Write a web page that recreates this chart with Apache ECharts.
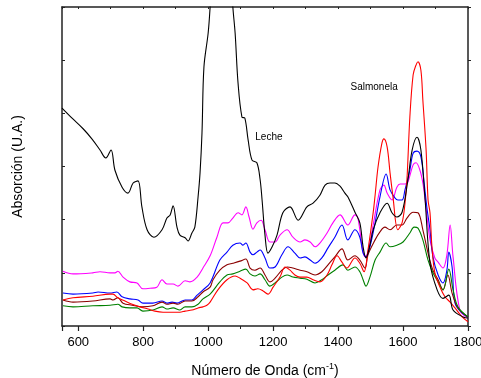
<!DOCTYPE html>
<html>
<head>
<meta charset="utf-8">
<script src="https://cdn.jsdelivr.net/npm/echarts@6/dist/echarts.min.js"></script>
<style>
  html, body { margin: 0; padding: 0; background: #fff; }
  #main { width: 481px; height: 378px; }
</style>
</head>
<body>
<div id="main"></div>
<script>
// espectros FTIR: [número de onda (cm-1), absorción (U.A.)]
const leche = [[550, 4.10], [581, 3.91], [615, 3.71], [642, 3.52], [667, 3.31], [685, 3.16], [701, 3.31], [713, 2.93],
  [735, 2.61], [753, 2.50], [769, 2.69], [784, 2.73], [796, 2.24], [812, 1.81], [833, 1.67], [858, 1.81], [873, 2.03],
  [883, 2.09], [892, 2.26], [904, 1.86], [913, 1.71], [929, 1.66], [938, 1.60], [950, 1.75], [959, 1.86], [969, 2.43],
  [975, 2.88], [981, 3.63], [987, 4.87], [1000, 5.51], [1006, 6.00], [1020, 7.5], [1040, 8.5], [1060, 7.5],
  [1076, 6.00], [1083, 5.51], [1092, 4.57], [1104, 3.93], [1113, 3.91], [1123, 3.50], [1135, 3.12], [1150, 3.07],
  [1160, 2.75], [1166, 2.37], [1175, 1.71], [1184, 1.37], [1197, 1.49], [1212, 1.71], [1230, 2.13], [1252, 2.24],
  [1277, 1.99], [1304, 2.24], [1323, 2.31], [1344, 2.46], [1360, 2.65], [1375, 2.69], [1390, 2.69], [1406, 2.63],
  [1421, 2.50], [1430, 2.43], [1452, 2.14], [1467, 1.94], [1477, 1.49], [1486, 1.28], [1498, 1.52], [1508, 1.81],
  [1529, 2.13], [1551, 2.31], [1566, 2.13], [1581, 2.05], [1597, 2.14], [1615, 2.75], [1628, 3.31], [1643, 3.55],
  [1655, 3.31], [1668, 2.37], [1683, 1.18], [1705, 0.68], [1723, 0.52], [1741, 0.58], [1754, 0.30], [1785, 0.17],
  [1800, 0.15]];

const magenta = [[553, 1.03], [584, 0.98], [645, 1.00], [667, 1.02], [698, 1.00], [713, 1.00], [722, 1.03], [738, 0.92],
  [759, 0.83], [781, 0.81], [799, 0.70], [821, 0.71], [842, 0.73], [858, 0.87], [873, 0.79], [892, 0.79], [907, 0.75],
  [929, 0.85], [944, 0.83], [966, 0.92], [984, 1.09], [1006, 1.32], [1027, 1.67], [1046, 1.94], [1061, 1.94],
  [1076, 2.03], [1092, 2.13], [1104, 2.09], [1116, 2.24], [1126, 2.05], [1138, 1.82], [1150, 1.94], [1163, 1.99],
  [1175, 1.81], [1190, 1.58], [1206, 1.58], [1221, 1.71], [1243, 1.81], [1261, 1.67], [1283, 1.58], [1298, 1.62],
  [1314, 1.58], [1329, 1.49], [1344, 1.56], [1366, 1.75], [1384, 1.94], [1406, 2.09], [1430, 1.90], [1452, 2.09],
  [1461, 2.03], [1474, 1.49], [1483, 1.30], [1492, 1.39], [1508, 1.90], [1529, 2.56], [1541, 2.65], [1551, 2.50],
  [1566, 2.37], [1581, 2.61], [1591, 2.67], [1606, 2.67], [1615, 2.71], [1631, 3.03], [1640, 3.07], [1652, 2.93],
  [1661, 2.69], [1668, 2.37], [1683, 1.62], [1698, 1.28], [1708, 1.20], [1723, 1.09], [1735, 1.34], [1745, 1.90],
  [1754, 1.30], [1775, 0.30], [1800, 0.15]];

const azul = [[553, 0.62], [584, 0.60], [645, 0.62], [661, 0.64], [698, 0.62], [719, 0.64], [735, 0.55], [759, 0.51],
  [784, 0.49], [799, 0.43], [830, 0.43], [858, 0.47], [873, 0.43], [889, 0.45], [904, 0.43], [929, 0.49], [950, 0.49],
  [966, 0.58], [984, 0.68], [1006, 0.81], [1036, 1.24], [1058, 1.39], [1076, 1.52], [1098, 1.56], [1107, 1.52],
  [1116, 1.56], [1129, 1.39], [1138, 1.34], [1150, 1.39], [1160, 1.43], [1175, 1.28], [1190, 1.09], [1206, 1.11],
  [1227, 1.34], [1246, 1.49], [1267, 1.37], [1283, 1.28], [1298, 1.30], [1314, 1.24], [1329, 1.18], [1350, 1.28],
  [1369, 1.47], [1390, 1.67], [1412, 1.90], [1430, 1.62], [1452, 1.81], [1467, 1.67], [1477, 1.37], [1486, 1.30],
  [1498, 1.49], [1514, 1.94], [1529, 2.43], [1548, 2.86], [1560, 2.56], [1575, 2.41], [1584, 2.37], [1597, 2.37],
  [1606, 2.56], [1621, 2.93], [1631, 3.25], [1643, 3.29], [1655, 3.18], [1665, 2.69], [1674, 2.20], [1683, 1.81],
  [1692, 1.30], [1708, 0.96], [1723, 0.81], [1735, 1.05], [1741, 1.39], [1751, 1.11], [1760, 0.43], [1782, 0.24],
  [1800, 0.17]];

const granate = [[553, 0.49], [584, 0.45], [645, 0.47], [698, 0.51], [707, 0.49], [722, 0.53], [738, 0.43], [766, 0.39],
  [796, 0.36], [830, 0.38], [858, 0.45], [873, 0.41], [892, 0.43], [907, 0.41], [929, 0.47], [950, 0.47], [969, 0.55],
  [984, 0.64], [1006, 0.73], [1015, 0.87], [1036, 1.05], [1058, 1.15], [1076, 1.18], [1098, 1.22], [1116, 1.26],
  [1129, 1.09], [1144, 1.05], [1160, 1.09], [1175, 0.96], [1190, 0.83], [1206, 0.90], [1227, 1.05], [1243, 1.11],
  [1261, 1.09], [1283, 1.05], [1304, 1.02], [1329, 0.96], [1350, 1.02], [1369, 1.15], [1390, 1.30], [1412, 1.45],
  [1430, 1.24], [1452, 1.32], [1467, 1.24], [1483, 1.09], [1492, 1.34], [1514, 1.62], [1529, 1.77], [1544, 1.86],
  [1560, 1.81], [1581, 1.90], [1597, 1.90], [1612, 2.03], [1631, 2.14], [1646, 2.13], [1661, 1.81], [1677, 1.37],
  [1692, 1.05], [1708, 0.87], [1723, 0.68], [1738, 0.96], [1751, 0.62], [1769, 0.34], [1800, 0.17]];

const verde = [[553, 0.38], [584, 0.36], [645, 0.38], [698, 0.39], [722, 0.41], [735, 0.36], [759, 0.34], [781, 0.34],
  [799, 0.28], [830, 0.30], [858, 0.36], [873, 0.32], [892, 0.34], [913, 0.30], [929, 0.36], [950, 0.36], [969, 0.41],
  [984, 0.51], [1006, 0.60], [1036, 0.83], [1058, 0.96], [1076, 0.98], [1098, 1.03], [1116, 1.07], [1129, 0.98],
  [1144, 0.94], [1160, 0.98], [1175, 0.87], [1190, 0.75], [1206, 0.81], [1227, 0.92], [1243, 0.96], [1261, 0.92],
  [1283, 0.90], [1304, 0.88], [1329, 0.81], [1350, 0.87], [1369, 0.96], [1390, 1.05], [1415, 1.15], [1430, 1.05],
  [1452, 1.11], [1467, 1.02], [1477, 0.87], [1486, 0.75], [1498, 0.92], [1514, 1.24], [1529, 1.39], [1548, 1.56],
  [1560, 1.49], [1581, 1.52], [1600, 1.58], [1621, 1.75], [1634, 1.86], [1646, 1.84], [1661, 1.62], [1677, 1.24],
  [1692, 1.00], [1708, 0.83], [1723, 0.68], [1741, 1.07], [1754, 0.68], [1769, 0.36], [1800, 0.17]];

const rojo = [[553, 0.49], [584, 0.53], [645, 0.56], [698, 0.60], [707, 0.60], [722, 0.53], [744, 0.47], [766, 0.41],
  [790, 0.36], [815, 0.32], [836, 0.28], [861, 0.26], [892, 0.26], [913, 0.26], [929, 0.28], [950, 0.30], [969, 0.34],
  [984, 0.36], [996, 0.39], [1006, 0.45], [1030, 0.68], [1058, 0.87], [1083, 0.94], [1098, 0.90], [1120, 0.81],
  [1138, 0.68], [1153, 0.70], [1169, 0.66], [1184, 0.60], [1200, 0.73], [1221, 0.92], [1237, 1.11], [1252, 1.05],
  [1267, 0.96], [1283, 0.92], [1304, 0.92], [1323, 0.87], [1344, 0.83], [1366, 0.96], [1381, 1.15], [1397, 1.32],
  [1412, 1.20], [1427, 1.09], [1452, 1.28], [1467, 1.18], [1480, 1.02], [1492, 1.43], [1508, 2.13], [1514, 2.46],
  [1523, 2.99], [1535, 3.44], [1541, 3.52], [1551, 3.37], [1560, 2.88], [1569, 2.43], [1584, 1.81], [1597, 1.94],
  [1606, 2.31], [1612, 2.75], [1621, 3.93], [1631, 4.72], [1640, 4.91], [1646, 4.97], [1655, 4.81], [1661, 4.25],
  [1671, 3.31], [1677, 2.37], [1683, 2.13], [1689, 1.49], [1698, 1.00], [1714, 0.73], [1729, 0.55], [1745, 0.45],
  [1760, 0.34], [1782, 0.17], [1800, 0.08]];

const etiquetas = [
  { texto: 'Leche', x: 1187, y: 3.55 },
  { texto: 'Salmonela', x: 1511, y: 4.49 }
];

const fuente = '"Liberation Sans", Arial, sans-serif';
const ejeColor = '#222';

const chart = echarts.init(document.getElementById('main'));

function curva(nombre, datos, color, extra) {
  return Object.assign({
    name: nombre,
    type: 'line',
    data: datos,
    xAxisIndex: 0,
    yAxisIndex: 0,
    symbol: 'none',
    smooth: 0.35,
    clip: true,
    lineStyle: { color: color, width: 1.1 },
    itemStyle: { color: color },
    animation: false
  }, extra || {});
}

chart.setOption({
  animation: false,
  grid: { left: 62, right: 13, top: 7, bottom: 52, containLabel: false, outerBoundsMode: 'none' },
  xAxis: [
    {
      type: 'value', position: 'bottom', min: 550, max: 1800, splitNumber: 6,
      name: '{n|Número de Onda (cm}{s|-1}{n|)}',
      nameLocation: 'middle', nameGap: 36,
      nameTextStyle: {
        rich: {
          n: { fontSize: 14, fontFamily: fuente, color: '#000', lineHeight: 18 },
          s: { fontSize: 9, fontFamily: fuente, color: '#000', verticalAlign: 'top', lineHeight: 10 }
        }
      },
      axisLine: { show: true, onZero: false, lineStyle: { color: ejeColor, width: 1.5 } },
      axisTick: { show: true, inside: false, length: 5, lineStyle: { color: ejeColor, width: 1.2 } },
      axisLabel: {
        margin: 10, fontSize: 13, color: '#000', fontFamily: fuente,
        formatter: v => (v % 200 === 0 ? String(v) : '')
      },
      splitLine: { show: false }
    },
    {
      // ticks menores inferiores
      type: 'value', position: 'bottom', min: 550, max: 1800, splitNumber: 12,
      axisLine: { show: false, onZero: false },
      axisTick: { show: true, inside: false, length: 3, lineStyle: { color: ejeColor, width: 1 } },
      axisLabel: { show: false },
      splitLine: { show: false }
    },
    {
      type: 'value', position: 'top', min: 550, max: 1800, splitNumber: 12,
      axisLine: { show: true, onZero: false, lineStyle: { color: ejeColor, width: 1.5 } },
      axisTick: { show: true, inside: true, length: 2, lineStyle: { color: ejeColor, width: 1 } },
      axisLabel: { show: false },
      splitLine: { show: false }
    }
  ],
  yAxis: [
    {
      type: 'value', position: 'left', min: 0, max: 6, interval: 1,
      name: 'Absorción (U.A.)',
      nameLocation: 'middle', nameGap: 37,
      nameTextStyle: { fontSize: 14, color: '#000', fontFamily: fuente },
      axisLine: { show: true, onZero: false, lineStyle: { color: ejeColor, width: 1.5 } },
      axisTick: { show: true, inside: true, length: 3, lineStyle: { color: ejeColor, width: 1 } },
      axisLabel: { show: false },
      splitLine: { show: false }
    },
    {
      type: 'value', position: 'right', min: 0, max: 6, interval: 1,
      axisLine: { show: true, onZero: false, lineStyle: { color: ejeColor, width: 1.5 } },
      axisTick: { show: true, inside: false, length: 3, lineStyle: { color: ejeColor, width: 1 } },
      axisLabel: { show: false },
      splitLine: { show: false }
    }
  ],
  series: [
    curva('Magenta', magenta, '#ff00ff'),
    curva('Azul', azul, '#0000ff'),
    curva('Granate', granate, '#8b0000'),
    curva('Verde', verde, '#008000'),
    curva('Rojo', rojo, '#ff0000', {
      markPoint: {
        symbol: 'circle', symbolSize: 0,
        label: { show: true, position: 'inside', formatter: '{b}', fontSize: 10, color: '#000', fontFamily: fuente },
        data: etiquetas.map(e => ({ name: e.texto, coord: [e.x, e.y] }))
      }
    }),
    curva('Leche', leche, '#000000')
  ]
});
</script>
</body>
</html>
